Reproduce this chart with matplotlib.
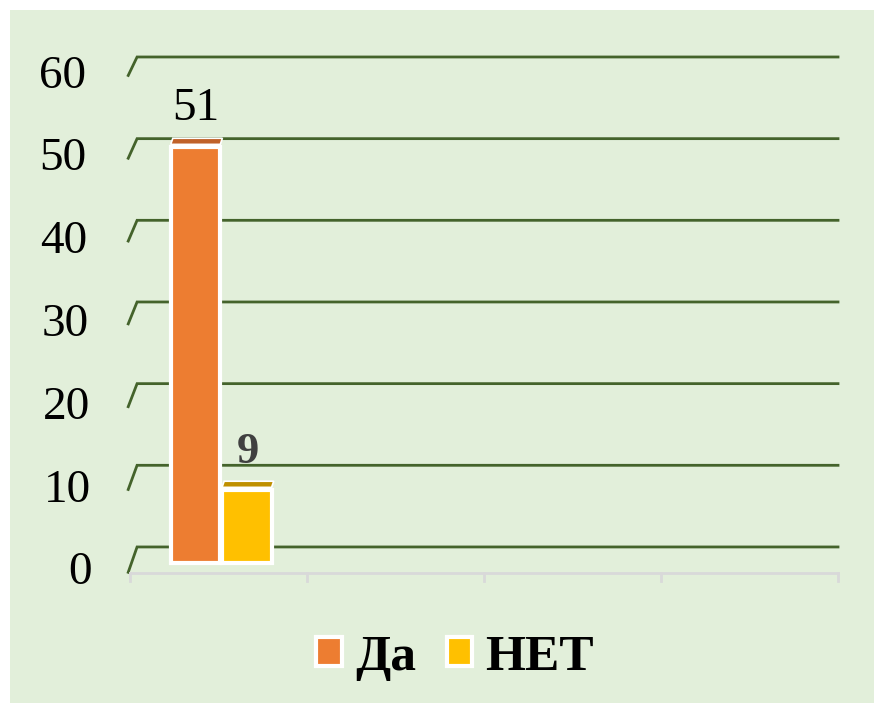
import numpy as np
import matplotlib
matplotlib.use('Agg')
import matplotlib.pyplot as plt
from matplotlib.patches import Rectangle, Polygon, Patch

# data
n_categories = 4
series_names = ['Да', 'НЕТ']
da = [51]
net = [9]
y_ticks = [0, 10, 20, 30, 40, 50, 60]

bg = '#E2EFDA'
grid_col = '#44632B'
colors = ['#ED7D31', '#FFC000']
top_colors = ['#C0622A', '#BF9000']
serif = ['Liberation Serif', 'DejaVu Serif']

fig = plt.figure(figsize=(8.74, 7.03), dpi=100, facecolor='white')
fig.patches.append(Rectangle((10/874, 0), 1, 693/703, transform=fig.transFigure,
                             facecolor=bg, edgecolor='none', zorder=-5))

ax = fig.add_axes([130/874, 113/703, 708/874, 550/703])
ax.set_facecolor('none')
ax.set_zorder(2)
ax.set_xlim(0, n_categories)
ax.set_ylim(-5.27, 62.08)
ax.axis('off')

def depth(v):
    return 3.1 - 0.014*v

# back-wall gridlines with slanted floor edge
for v in y_ticks:
    d = depth(v)
    ax.plot([-0.01, 0.04, 4.0], [v - d, v, v], color=grid_col, lw=2.0,
            solid_joinstyle='miter', clip_on=False, zorder=1)
    ax.text(-0.215 - 0.0006*v, v - d - 0.1, str(v), ha='right', va='center',
            fontsize=34, family=serif, color='black')

# front axis line with ticks
base = -3.18
ax.plot([0, n_categories], [base, base], color='#D9D9D9', lw=2, clip_on=False, zorder=1)
for i in range(n_categories + 1):
    ax.plot([i, i], [base, base - 1.0], color='#D9D9D9', lw=2, clip_on=False, zorder=1)

# bars
bar_base = -2.0
w = 0.28
offsets = [-0.145, 0.145]
for s, (vals, c, tc) in enumerate(zip([da, net], colors, top_colors)):
    for i, v in enumerate(vals):
        xc = i + 0.515 + offsets[s]
        ax.bar(xc, v, width=w, bottom=bar_base, color=c, edgecolor='white',
               linewidth=3, zorder=3)
        top = bar_base + v
        x0, x1 = xc - w/2, xc + w/2
        poly = Polygon([(x0, top + 0.3), (x1, top + 0.3), (x1 + 0.012, top + 1.05),
                        (x0 + 0.012, top + 1.05)], closed=True, facecolor=tc,
                       edgecolor='white', lw=1.2, zorder=3)
        ax.add_patch(poly)
        if s == 0:
            ax.text(xc, top + 4.7, str(v), ha='center', va='center', fontsize=34,
                    family=serif, color='black', zorder=4)
        else:
            ax.text(xc + 0.005, top + 4.6, str(v), ha='center', va='center', fontsize=32,
                    family=serif, fontweight='bold', color='#404040', zorder=4)

handles = [Patch(facecolor=c, edgecolor='white', lw=3) for c in colors]
leg = fig.legend(handles, series_names, loc='center', bbox_to_anchor=(455/874, 1 - 658/703),
                 ncol=2, frameon=False, handlelength=0.5, handleheight=0.5,
                 handletextpad=0.25, columnspacing=0.6,
                 prop={'family': serif, 'weight': 'bold', 'size': 37})

fig.savefig('out.png', dpi=100, facecolor='white')
